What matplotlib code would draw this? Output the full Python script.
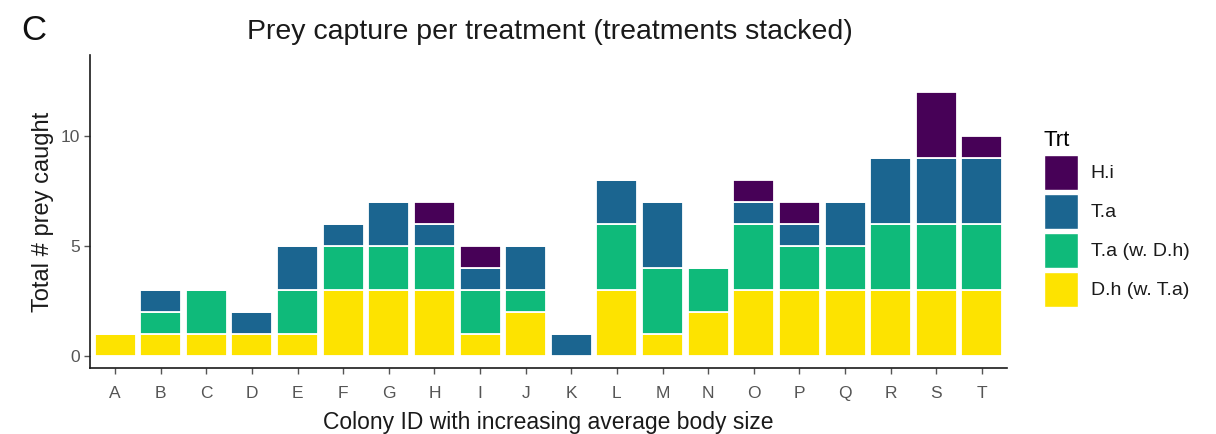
import matplotlib
matplotlib.use("Agg")
import matplotlib.pyplot as plt
from matplotlib.patches import Patch
import numpy as np

plt.rcParams['font.family'] = ['Liberation Sans', 'DejaVu Sans']

colonies = list("ABCDEFGHIJKLMNOPQRST")
dh_wta = [1, 1, 1, 1, 1, 3, 3, 3, 1, 2, 0, 3, 1, 2, 3, 3, 3, 3, 3, 3]
ta_wdh = [0, 1, 2, 0, 2, 2, 2, 2, 2, 1, 0, 3, 3, 2, 3, 2, 2, 3, 3, 3]
ta     = [0, 1, 0, 1, 2, 1, 2, 1, 1, 2, 1, 2, 3, 0, 1, 1, 2, 3, 3, 3]
hi     = [0, 0, 0, 0, 0, 0, 0, 1, 1, 0, 0, 0, 0, 0, 1, 1, 0, 0, 3, 1]

series = [("D.h (w. T.a)", dh_wta, "#FDE300"),
          ("T.a (w. D.h)", ta_wdh, "#0FBA7A"),
          ("T.a", ta, "#1B6590"),
          ("H.i", hi, "#470157")]

fig = plt.figure(figsize=(12.16, 4.34), dpi=100)
ax = fig.add_axes([90/1216, 1-368/434, (1007-90)/1216, (368-55)/434])

x = np.arange(len(colonies))
bottom = np.zeros(len(colonies))
for name, vals, col in series:
    v = np.array(vals, dtype=float)
    ax.bar(x, v, bottom=bottom, width=0.9, color=col, edgecolor='white', linewidth=1.3)
    bottom += v

ax.set_xlim(-0.55, len(colonies) - 0.45)
ax.set_ylim(-0.55, 13.7)
ax.set_xticks(x)
ax.set_xticklabels(colonies)
ax.set_yticks([0, 5, 10])
for s in ['top', 'right']:
    ax.spines[s].set_visible(False)
for s in ['left', 'bottom']:
    ax.spines[s].set_color('#1a1a1a')
    ax.spines[s].set_linewidth(1.2)
ax.tick_params(axis='both', colors='#555555', labelsize=12.5, length=4, width=1)
ax.tick_params(axis='x', pad=9)
ax.tick_params(axis='y', pad=3)

ax.set_xlabel("Colony ID with increasing average body size", fontsize=16.5, labelpad=7,
              color='#1a1a1a')
ax.set_ylabel("Total # prey caught", fontsize=17, labelpad=5, color='#1a1a1a')
fig.text(550/1216, 1-32/434, "Prey capture per treatment (treatments stacked)",
         ha='center', va='center', fontsize=20.5, color='#1a1a1a')
fig.text(21/1216, 1-31/434, "C", ha='left', va='center', fontsize=25, color='#111111')

handles = [Patch(facecolor=c, edgecolor='white', label=n) for n, _, c in series[::-1]]
leg = fig.legend(handles=handles, title="Trt", loc='upper left',
                 bbox_to_anchor=(1044/1216, 1-130/434), frameon=False,
                 fontsize=14, title_fontsize=16, handlelength=1.75, handleheight=2.4,
                 labelspacing=0.2, handletextpad=0.65, borderaxespad=0, borderpad=0)
leg._legend_box.align = "left"
for t in leg.get_texts():
    t.set_color('#1a1a1a')

fig.savefig("out.png", dpi=100)
